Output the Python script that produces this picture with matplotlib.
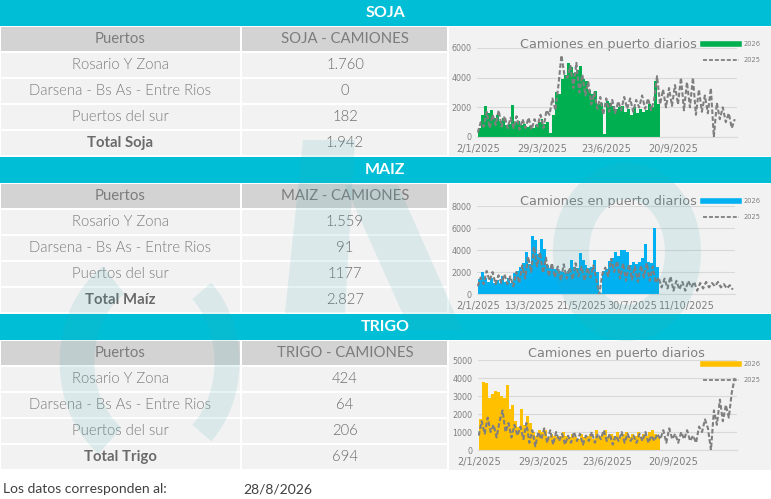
import matplotlib
matplotlib.use('Agg')
import matplotlib.pyplot as plt
from matplotlib.patches import Rectangle, Arc, Polygon
from matplotlib.lines import Line2D
import pandas as pd

# ---------------- data ----------------
puertos = ["Rosario Y Zona", "Darsena - Bs As - Entre Rios", "Puertos del sur"]

soja_title = "SOJA"
soja_col = "SOJA - CAMIONES"
soja_vals = ["1.760", "0", "182"]
soja_total_label = "Total Soja"
soja_total = "1.942"

maiz_title = "MAIZ"
maiz_col = "MAIZ - CAMIONES"
maiz_vals = ["1.559", "91", "1177"]
maiz_total_label = "Total Maíz"
maiz_total = "2.827"

trigo_title = "TRIGO"
trigo_col = "TRIGO - CAMIONES"
trigo_vals = ["424", "64", "206"]
trigo_total_label = "Total Trigo"
trigo_total = "694"

fecha_label = "Los datos corresponden al:"
fecha = "28/8/2026"

chart_title = "Camiones en puerto diarios"
series_labels = ["2026", "2025"]

# daily truck counts sampled every 4 days, starting 2/1 (2026 plotted on 2025 calendar)
soja_2026 = [600, 1500, 2100, 1600, 1850, 1300, 1500, 1100, 1300, 800, 900, 2150,
             1000, 1100, 800, 900, 700, 750, 600, 800, 1000, 1200, 900, 1000,
             300, 1500, 3000, 2900, 3900, 4200, 5000, 4700, 4300, 4500, 4800, 3900,
             3800, 3200, 2900, 3100, 2200, 2300, 200, 2400, 2300, 2100, 1900, 2000,
             2100, 1700, 1900, 1500, 2000, 1600, 1900, 1700, 1800, 2200, 2000, 3800, 2200]
soja_2025 = [300, 1000, 700, 1700, 600, 1500, 800, 1800, 700, 1400, 600, 1300,
             600, 1400, 500, 1200, 600, 1300, 500, 1200, 700, 1500, 600, 1800,
             1500, 2600, 1800, 3500, 5500, 4200, 4000, 4800, 3300, 5000, 3000, 4200,
             2800, 3700, 2200, 3000, 1900, 2700, 1500, 2600, 1700, 2500, 1600, 2400,
             1800, 2700, 1900, 2600, 1700, 2500, 2000, 2800, 1900, 2600, 1800, 2500,
             4100, 2200, 3200, 2000, 3300, 2100, 3500, 2200, 4000, 1800, 3700, 2000,
             4000, 1500, 3200, 1700, 2800, 1600, 3300, 0, 2300, 1200, 2000, 1000,
             1600, 600, 1200]

maiz_2026 = [1400, 2000, 1500, 1100, 1500, 1000, 1300, 1000, 1600, 1100, 1500, 1000,
             1900, 2100, 2500, 2800, 3800, 2700, 5300, 4900, 3600, 5000, 4100, 2600,
             2400, 2300, 2300, 2100, 2000, 1900, 2100, 3100, 2500, 2400, 3700, 3100,
             2600, 2400, 2500, 3100, 2000, 100, 2100, 2300, 3000, 3300, 3800, 3500,
             4000, 4000, 3800, 2600, 2900, 2700, 2900, 3300, 4500, 2900, 2800, 6000, 2500]
maiz_2025 = [700, 1500, 900, 2100, 1200, 2000, 900, 1700, 1000, 1800, 900, 1600,
             700, 2000, 1000, 2600, 1400, 3400, 2000, 4300, 2500, 3800, 1900, 3300,
             1600, 2800, 1500, 2500, 1200, 2700, 1400, 2400, 1300, 2800, 1600, 2500,
             1200, 2400, 1500, 2600, 1300, 0, 1800, 2400, 1600, 3200, 2000, 3000,
             1400, 2800, 1200, 2700, 1300, 2500, 1100, 2600, 1500, 2800, 1200, 2500,
             1000, 1500, 600, 1400, 500, 1600, 300, 1200, 400, 1100, 300, 1200,
             600, 1100, 300, 1000, 500, 1100, 600, 1000, 700, 1100, 600, 900,
             500, 800, 400]

trigo_2026 = [1700, 3800, 3700, 2900, 3100, 3300, 3200, 3000, 2900, 3600, 2300, 2500,
              1600, 1300, 2300, 1400, 1900, 1500, 1000, 800, 1100, 1000, 1100, 700,
              900, 800, 700, 800, 1000, 800, 700, 900, 700, 600, 900, 700,
              800, 900, 600, 1100, 800, 900, 1100, 700, 900, 800, 1000, 700,
              900, 1000, 700, 900, 800, 1000, 700, 900, 800, 1000, 1100, 900, 800]
trigo_2025 = [800, 1600, 900, 1800, 1000, 1400, 700, 1600, 2200, 1000, 1500, 700,
              1400, 800, 1300, 600, 1500, 400, 1100, 200, 1000, 600, 1200, 400,
              1100, 300, 1000, 500, 900, 300, 800, 400, 1000, 500, 900, 300,
              800, 500, 1000, 400, 900, 600, 1100, 500, 900, 300, 800, 500,
              1000, 400, 900, 500, 800, 400, 900, 500, 1000, 400, 800, 500,
              900, 600, 1100, 400, 1200, 600, 900, 400, 1000, 600, 1100, 500,
              800, 400, 1300, 1000, 1700, 1200, 0, 2200, 1400, 2800, 1600, 2500,
              1800, 3200, 4000]

soja_xticks = ["2025-01-02", "2025-03-29", "2025-06-23", "2025-09-20"]
maiz_xticks = ["2025-01-02", "2025-03-13", "2025-05-21", "2025-07-30", "2025-10-11"]
trigo_xticks = ["2025-01-02", "2025-03-29", "2025-06-23", "2025-09-20"]

# ---------------- style ----------------
W, H = 771, 499
CYAN = "#00BED6"
HDR_GRAY = "#d3d3d3"
ROW_GRAY = "#f2f2f2"
TXT = "#7c7c7c"
TXT_DARK = "#6a6a6a"
LINE_GRAY = "#7f7f7f"
TFONT = ["Lato", "DejaVu Sans"]
CFONT = ["DejaVu Sans"]

fig = plt.figure(figsize=(W / 100, H / 100), dpi=100)
fig.patch.set_facecolor("white")
bg = fig.add_axes([0, 0, 1, 1])
bg.set_xlim(0, W)
bg.set_ylim(H, 0)
bg.axis("off")


def px_axes(x0, y0, x1, y1):
    return fig.add_axes([x0 / W, 1 - y1 / H, (x1 - x0) / W, (y1 - y0) / H])


def section(top, title, col, vals, total_label, total, color, s26, s25, ymax, ystep,
            xticks, plot_box, legend_y, title_xy):
    bg.add_patch(Rectangle((0, top), W, 26, color=CYAN, lw=0))
    bg.text(385, top + 13, title, ha="center", va="center", color="white",
            fontsize=11.5, fontweight="bold", family=TFONT)
    row_h = 26
    y = top + 27
    bg.add_patch(Rectangle((449, y), W - 449, 5 * row_h - 1, color=ROW_GRAY, lw=0))
    labels = ["Puertos"] + puertos + [total_label]
    values = [col] + vals + [total]
    for i, (lab, val) in enumerate(zip(labels, values)):
        fc = HDR_GRAY if i == 0 else ROW_GRAY
        ry = y + i * row_h
        bg.add_patch(Rectangle((1, ry), 239, row_h - 2, color=fc, lw=0))
        bg.add_patch(Rectangle((242, ry), 205, row_h - 2, color=fc, lw=0))
        if i == 0:
            lw_, vw_, c = "normal", "normal", TXT
        elif i == len(labels) - 1:
            lw_, vw_, c = "bold", 300, TXT_DARK
        else:
            lw_, vw_, c = 300, 300, TXT
        bg.text(120, ry + row_h / 2 - 1, lab, ha="center", va="center", color=c,
                fontsize=10.7, fontweight=lw_, family=TFONT)
        bg.text(345, ry + row_h / 2 - 1, val, ha="center", va="center",
                color=TXT_DARK if i > 0 else TXT, fontsize=10.7, fontweight=vw_,
                family=TFONT)

    ax = px_axes(*plot_box)
    ax.set_facecolor("none")
    d26 = pd.date_range("2025-01-02", periods=len(s26), freq="4D")
    d25 = pd.date_range("2025-01-02", periods=len(s25), freq="4D")
    ax.bar(d26, s26, width=4, align="edge", color=color, lw=0, zorder=2,
           label=series_labels[0])
    ax.plot(d25, s25, color=LINE_GRAY, lw=1.5, ls=(0, (2.2, 1.1)), zorder=3,
            label=series_labels[1])
    ax.set_xlim(pd.Timestamp("2025-01-01"), pd.Timestamp("2025-12-15"))
    ax.set_ylim(0, ymax)
    ax.set_yticks(range(0, ymax + 1, ystep))
    ax.tick_params(axis="y", labelsize=5.8, colors="#7f7f7f", length=0, pad=4)
    xt = pd.to_datetime(xticks)
    ax.set_xticks(xt)
    ax.set_xticklabels([f"{t.day}/{t.month}/{t.year}" for t in xt])
    ax.tick_params(axis="x", labelsize=7, colors="#7f7f7f", length=0, pad=5)
    for lab in ax.get_xticklabels() + ax.get_yticklabels():
        lab.set_family(CFONT)
    ax.yaxis.grid(True, color="#d9d9d9", lw=0.8)
    ax.set_axisbelow(True)
    for s in ax.spines.values():
        s.set_visible(False)
    ax.spines["bottom"].set_visible(True)
    ax.spines["bottom"].set_color("#d9d9d9")
    ax.spines["bottom"].set_linewidth(0.8)
    bg.text(title_xy[0], title_xy[1], chart_title, ha="center", va="center",
            color="#7f7f7f", fontsize=9.2, family=CFONT)
    handles = [Line2D([0], [0], color=color, lw=4),
               Line2D([0], [0], color=LINE_GRAY, lw=1.3, ls=(0, (2.2, 1.1)))]
    leg = fig.legend(handles, series_labels, loc="center left",
                     bbox_to_anchor=(700 / W, 1 - legend_y / H),
                     frameon=False, fontsize=4.8, handlelength=5.4, handletextpad=0.6,
                     labelspacing=1.55, borderpad=0)
    for t in leg.get_texts():
        t.set_color("#7f7f7f")
    return ax


section(0, soja_title, soja_col, soja_vals, soja_total_label, soja_total, "#00B050",
        soja_2026, soja_2025, 6000, 2000, soja_xticks, (477, 48, 737, 137), 52, (608, 44))
section(157, maiz_title, maiz_col, maiz_vals, maiz_total_label, maiz_total, "#00B0F0",
        maiz_2026, maiz_2025, 8000, 2000, maiz_xticks, (477, 206, 735, 294), 209, (608, 201))
section(314, trigo_title, trigo_col, trigo_vals, trigo_total_label, trigo_total, "#FFC000",
        trigo_2026, trigo_2025, 5000, 1000, trigo_xticks, (478, 360, 737, 450), 372, (616, 353))

bg.text(3, 489, fecha_label, ha="left", va="center", color="#404040", fontsize=10,
        family=TFONT)
bg.text(243, 489, fecha, ha="left", va="center", color="#404040", fontsize=10,
        family=TFONT)

# faint logo watermark
top = fig.add_axes([0, 0, 1, 1], zorder=10)
top.set_xlim(0, W)
top.set_ylim(H, 0)
top.axis("off")
WMC = "#3aa7b6"
WMA = 0.13
wm = dict(color=WMC, alpha=WMA, lw=0)
top.add_patch(Arc((152, 362), 150, 190, theta1=118, theta2=245, color=WMC,
                  alpha=WMA, lw=25))
top.add_patch(Arc((152, 362), 150, 190, theta1=-55, theta2=55, color=WMC,
                  alpha=WMA, lw=18))
top.add_patch(Polygon([(303, 140), (355, 140), (345, 313), (285, 313)], **wm))
top.add_patch(Polygon([(345, 185), (398, 185), (462, 330), (410, 330)], **wm))
top.add_patch(Arc((627, 252), 112, 142, theta1=0, theta2=360, color=WMC,
                  alpha=WMA, lw=26))

fig.savefig("out.png", dpi=100, facecolor="white")
